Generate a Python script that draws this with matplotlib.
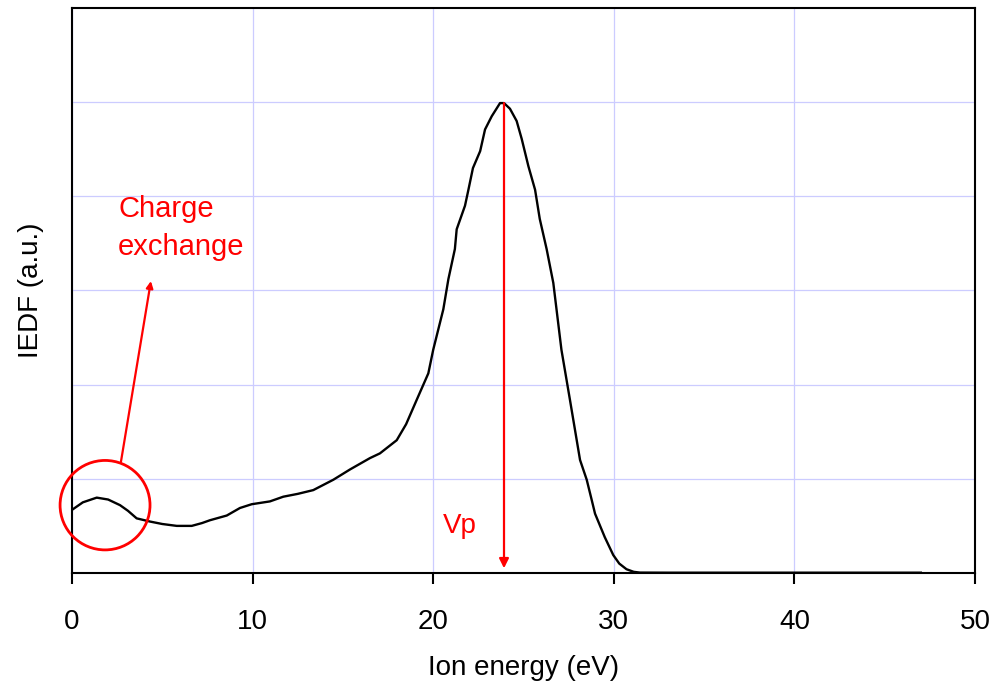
import matplotlib
matplotlib.use("Agg")
import matplotlib.pyplot as plt
from matplotlib.patches import Ellipse

plt.rcParams['font.family'] = ['Liberation Sans', 'DejaVu Sans']

# Ion energy distribution function (arbitrary units)
energy = [0.0, 0.6, 1.37, 2.0, 2.66, 3.1, 3.58, 4.32, 5.0, 5.8, 6.63, 7.2, 7.64,
          8.57, 9.3, 9.95, 10.96, 11.7, 12.5, 13.36, 14.47, 15.4, 16.5, 17.05,
          17.98, 18.5, 19.09, 19.73, 20.0, 20.56, 20.84, 21.2, 21.3, 21.76,
          21.95, 22.2, 22.6, 22.87, 23.24, 23.7, 23.92, 24.25, 24.62, 24.9,
          25.27, 25.64, 25.9, 26.28, 26.65, 27.1, 27.57, 28.13, 28.5, 28.77,
          28.96, 29.5, 29.97, 30.3, 30.7, 31.1, 31.45, 33.0, 36.0, 40.0, 44.0, 47.0]
iedf = [0.67, 0.75, 0.80, 0.78, 0.72, 0.66, 0.58, 0.546, 0.52, 0.50, 0.50, 0.53,
        0.56, 0.61, 0.69, 0.73, 0.76, 0.81, 0.84, 0.88, 0.99, 1.10, 1.22, 1.27,
        1.41, 1.58, 1.84, 2.12, 2.37, 2.80, 3.12, 3.44, 3.65, 3.90, 4.07, 4.30,
        4.48, 4.71, 4.85, 4.99, 4.99, 4.93, 4.80, 4.61, 4.32, 4.07, 3.76, 3.44,
        3.08, 2.37, 1.84, 1.20, 0.99, 0.78, 0.63, 0.38, 0.19, 0.10, 0.04, 0.012,
        0.004, 0.003, 0.003, 0.003, 0.003, 0.003]

x_ticks = [0, 10, 20, 30, 40, 50]
y_grid = [1, 2, 3, 4, 5]

# Plasma potential marker
vp_energy = 23.92
vp_top = 4.99

fig = plt.figure(figsize=(9.93, 6.88), dpi=100)
ax = fig.add_axes([0.0725, 0.1672, 0.9094, 0.8212])

ax.set_xlim(0, 50)
ax.set_ylim(0, 6)
ax.set_xticks(x_ticks)
ax.set_yticks(y_grid)
ax.set_yticklabels([])
ax.tick_params(axis='y', length=0)
ax.tick_params(axis='x', direction='out', length=8, width=1.5, labelsize=20, pad=18)
ax.grid(True, color='#ccccff', linewidth=0.9)
ax.set_axisbelow(True)
for s in ax.spines.values():
    s.set_linewidth(1.5)
    s.set_color('black')

ax.plot(energy, iedf, color='black', linewidth=1.7, zorder=3)

ax.set_xlabel('Ion energy (eV)', fontsize=20, labelpad=14)
ax.set_ylabel('IEDF (a.u.)', fontsize=20, labelpad=17)

# Vp arrow
ax.annotate('', xy=(vp_energy, 0.05), xytext=(vp_energy, vp_top),
            arrowprops=dict(arrowstyle='-|>', color='red', lw=1.6,
                            mutation_scale=14, shrinkA=0, shrinkB=0), zorder=4)
ax.text(21.5, 0.42, 'Vp', color='red', fontsize=20, ha='center', va='baseline')

# Charge exchange annotation
ax.add_patch(Ellipse((1.83, 0.72), 4.98, 0.95, fill=False, edgecolor='red',
                     linewidth=2.0, zorder=4, clip_on=False))
ax.annotate('', xy=(4.37, 3.10), xytext=(2.71, 1.18),
            arrowprops=dict(arrowstyle='-|>', color='red', lw=1.6,
                            mutation_scale=10, shrinkA=0, shrinkB=0), zorder=4)
ax.text(2.55, 3.38, 'Charge\nexchange', color='red', fontsize=21,
        ha='left', va='baseline', linespacing=1.45)

fig.savefig('out.png', dpi=100)
